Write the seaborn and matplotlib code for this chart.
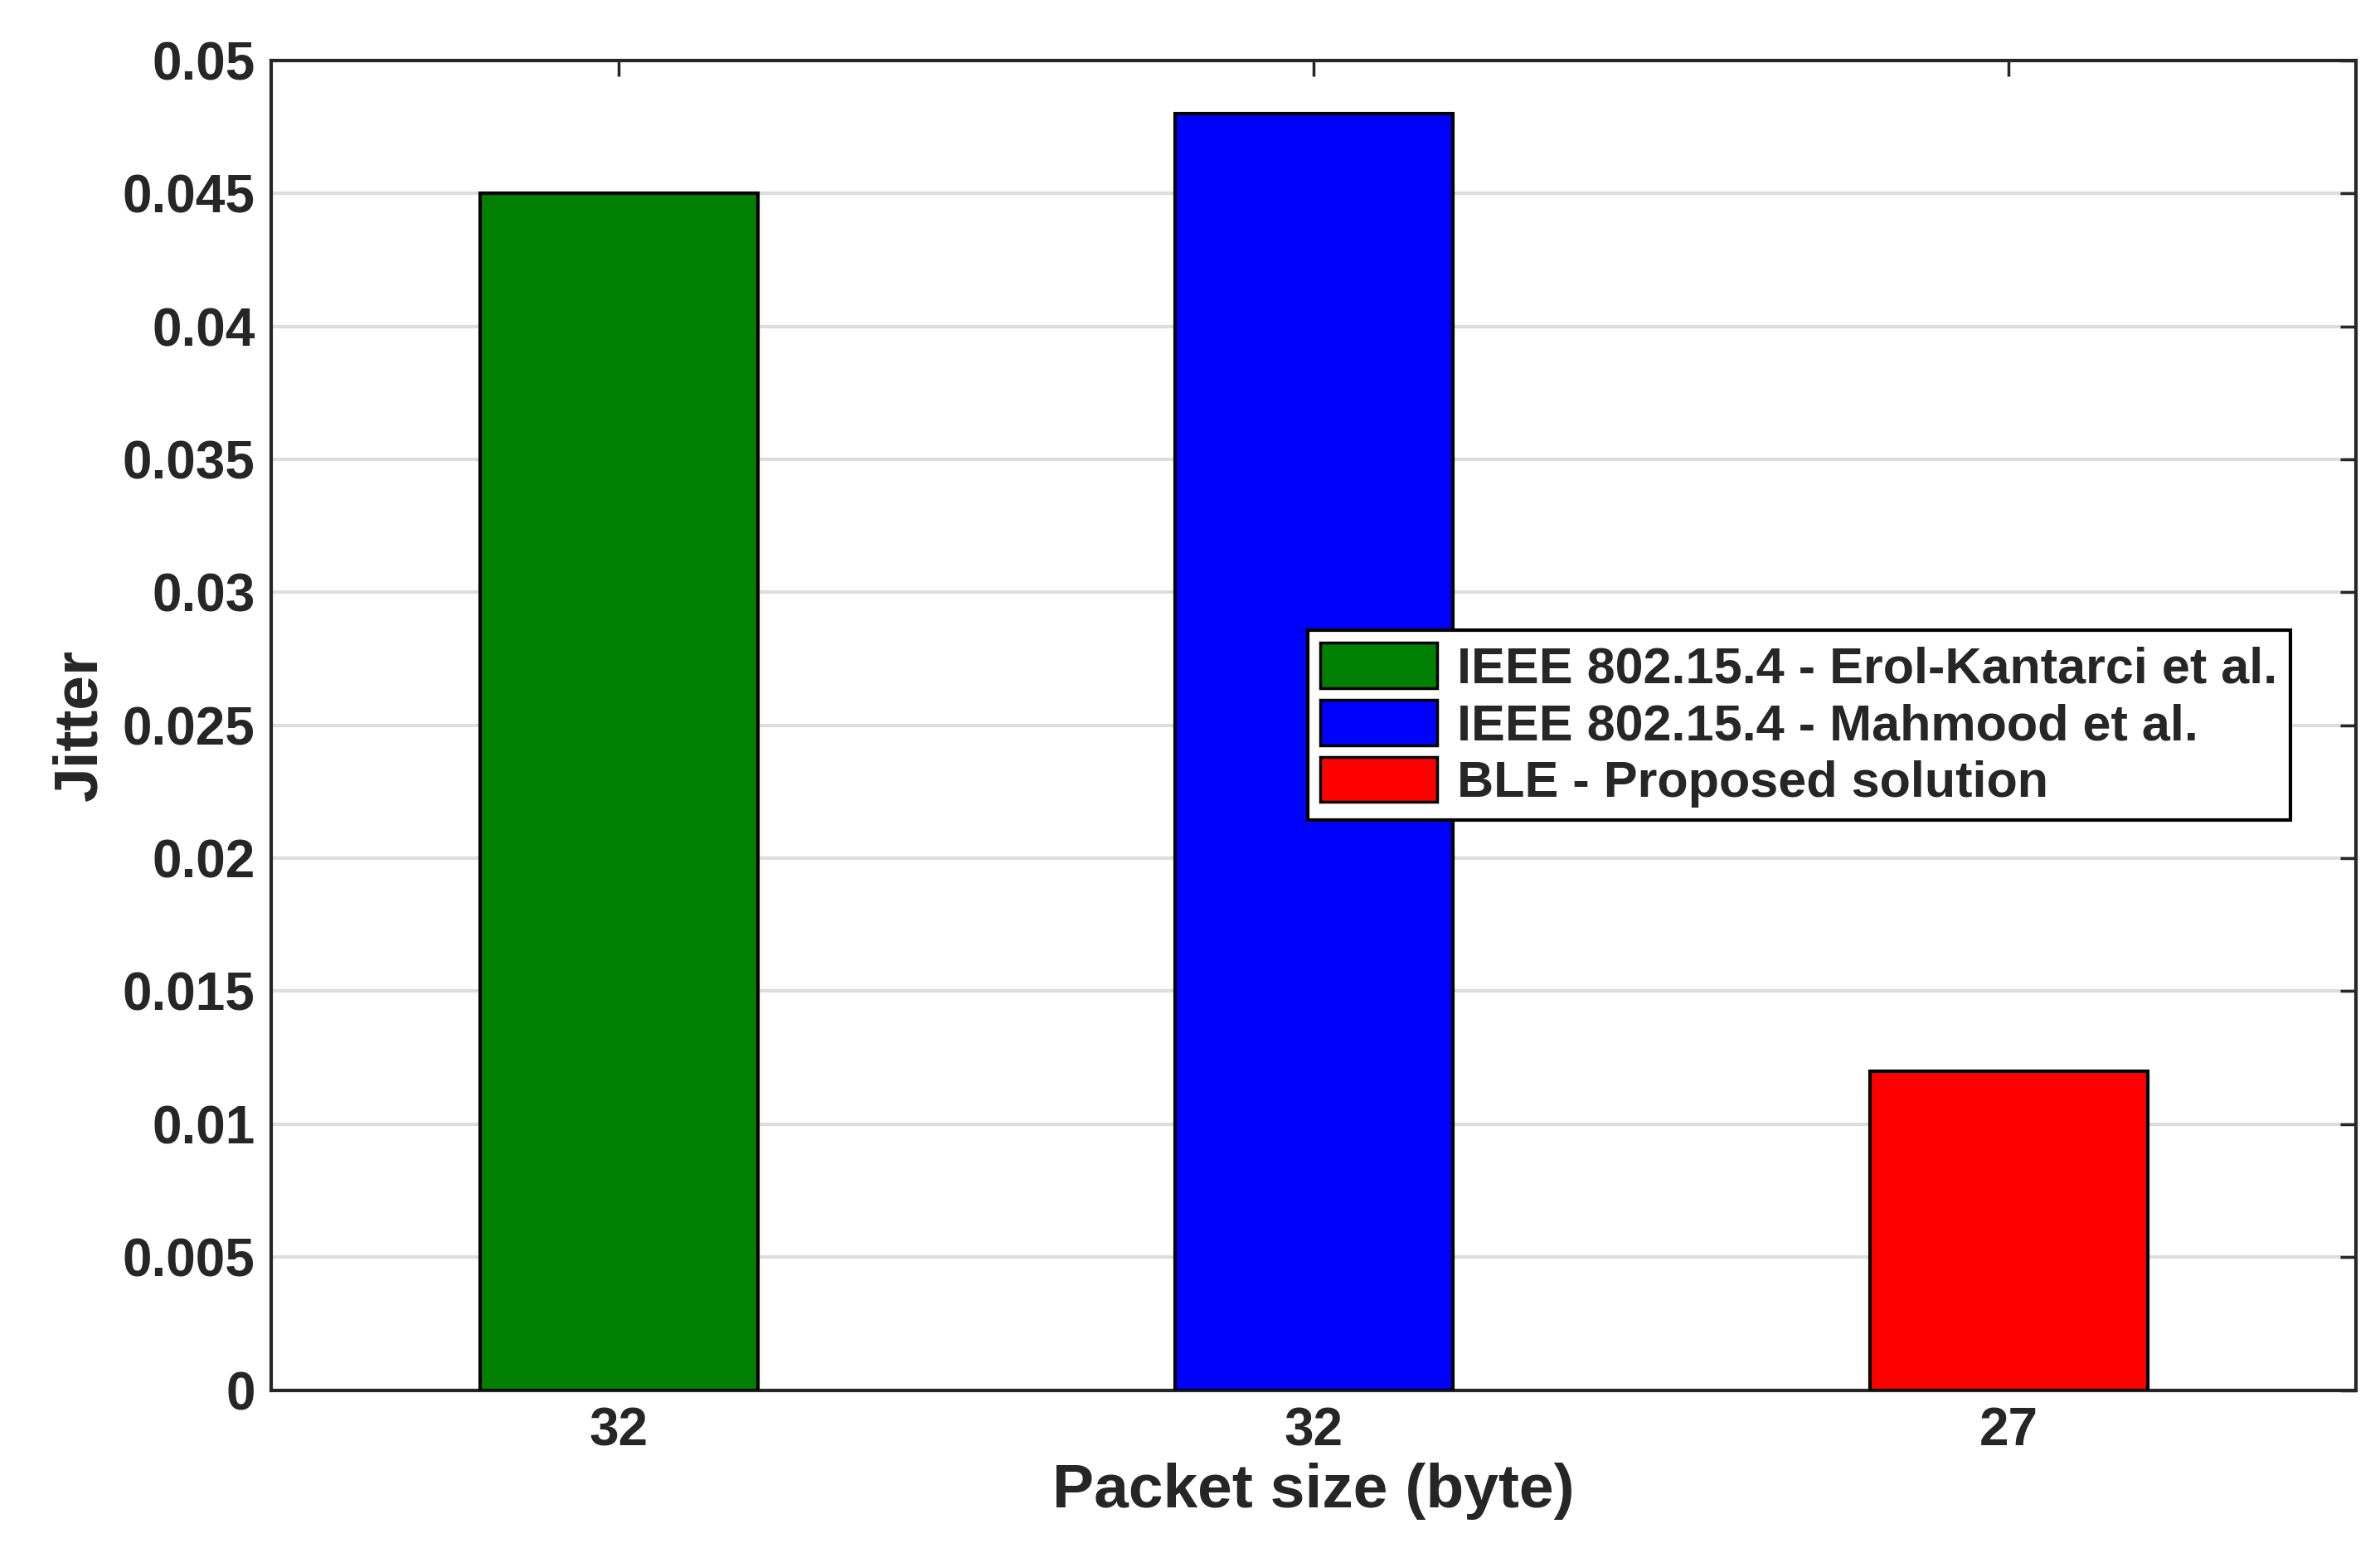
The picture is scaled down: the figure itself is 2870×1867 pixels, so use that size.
import matplotlib
matplotlib.use("Agg")
import matplotlib.pyplot as plt
import seaborn as sns
import pandas as pd
from matplotlib.patches import Patch

series = ["IEEE 802.15.4 - Erol-Kantarci et al.", "IEEE 802.15.4 - Mahmood et al.", "BLE - Proposed solution"]
tick_labels = ["32", "32", "27"]
jitter = [0.045, 0.048, 0.012]
colors = ["#008000", "#0000FF", "#FF0000"]

sns.set_style("white")
plt.rcParams['font.family'] = ['Liberation Sans', 'DejaVu Sans']
plt.rcParams['font.weight'] = 'bold'

df = pd.DataFrame({"series": series, "jitter": jitter})
fig = plt.figure(figsize=(28.7, 18.67), dpi=100)
ax = fig.add_axes([0.114, 0.102, 0.876, 0.859])
sns.barplot(data=df, x="series", y="jitter", hue="series", order=series, hue_order=series,
            palette=colors, saturation=1, dodge=False, width=0.4, edgecolor="black", linewidth=3,
            legend=False, ax=ax, zorder=3)
ax.set_xlim(-0.5, 2.5)
ax.set_ylim(0, 0.05)
ax.set_yticks([i * 0.005 for i in range(11)])
ax.set_yticklabels(["0", "0.005", "0.01", "0.015", "0.02", "0.025", "0.03", "0.035", "0.04", "0.045", "0.05"])
ax.set_xticks([0, 1, 2])
ax.set_xticklabels(tick_labels)
ax.yaxis.grid(True, color="#dddddd", linewidth=3, zorder=0)
ax.set_axisbelow(True)
ax.tick_params(axis="both", direction="in", top=True, right=True, length=14, width=2.5,
               labelsize=46, pad=14, colors="#262626")
for lab in ax.get_xticklabels() + ax.get_yticklabels():
    lab.set_fontweight("bold")
for s in ax.spines.values():
    s.set_visible(True); s.set_linewidth(3); s.set_color("#262626")
ax.set_xlabel("Packet size (byte)", fontsize=54, fontweight="bold", color="#262626", labelpad=6)
ax.set_ylabel("Jitter", fontsize=54, fontweight="bold", color="#262626", labelpad=12)
handles = [Patch(facecolor=c, edgecolor="black", linewidth=2.5) for c in colors]
leg = ax.legend(handles, series, loc="center left", bbox_to_anchor=(0.497, 0.5),
                prop={"weight": "bold", "size": 44}, frameon=True, fancybox=False, framealpha=1,
                edgecolor="black", handlelength=2.3, handleheight=1.0, borderpad=0.25,
                labelspacing=0.12, handletextpad=0.4, borderaxespad=0)
leg.get_frame().set_linewidth(3)
fig.savefig("out.png", dpi=100)
